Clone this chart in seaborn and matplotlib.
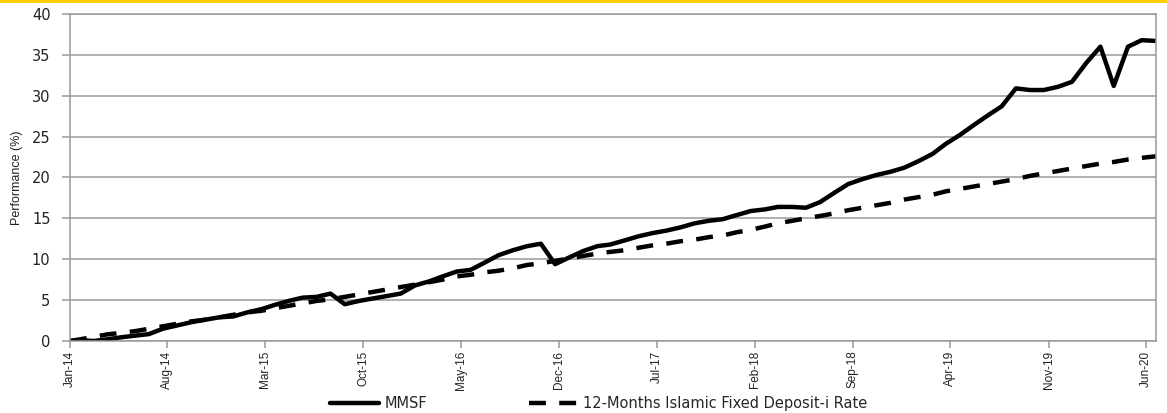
import pandas as pd
import matplotlib.pyplot as plt
import matplotlib.dates as mdates
from matplotlib.patches import Rectangle
import seaborn as sns

# -----------------------------
# Configuration
# -----------------------------
sns.set_theme(style="white")
plt.rcParams["font.family"] = ["DejaVu Sans"]
NARROW = ["Liberation Sans Narrow", "Liberation Sans", "DejaVu Sans"]

# -----------------------------
# Data (cumulative performance, %)
# -----------------------------
START_DATE = "2014-01-01"
FIRST_VALUE_DATE = "2014-01-22"
LAST_VALUE_DATE = "2020-06-22"

MMSF = [
    0.1, 0.0, 0.2, 0.45, 0.65, 0.85, 1.5, 1.9, 2.3, 2.6,
    2.9, 3.0, 3.5, 3.9, 4.4, 4.9, 5.3, 5.4, 5.8, 4.5,
    4.9, 5.2, 5.5, 5.8, 6.8, 7.3, 7.9, 8.5, 8.7, 9.6,
    10.5, 11.1, 11.6, 11.9, 9.4, 10.2, 11.0, 11.6, 11.8, 12.3,
    12.8, 13.2, 13.5, 13.9, 14.4, 14.7, 14.9, 15.4, 15.9, 16.1,
    16.4, 16.4, 16.3, 17.0, 18.1, 19.2, 19.8, 20.3, 20.7, 21.2,
    22.0, 22.9, 24.1, 25.2, 26.4, 27.6, 28.7, 30.9, 30.7, 30.7,
    31.1, 31.7, 34.0, 36.0, 31.2, 36.0, 36.8, 36.7,
]

FIXED_DEPOSIT = [
    0.2, 0.5, 0.8, 1.0, 1.2, 1.5, 1.8, 2.1, 2.4, 2.6,
    2.9, 3.2, 3.5, 3.7, 4.0, 4.3, 4.6, 4.9, 5.1, 5.4,
    5.7, 6.0, 6.3, 6.6, 6.9, 7.2, 7.5, 7.9, 8.1, 8.4,
    8.6, 8.9, 9.3, 9.5, 9.8, 10.1, 10.4, 10.7, 10.9, 11.1,
    11.4, 11.7, 11.9, 12.2, 12.4, 12.7, 12.9, 13.3, 13.6, 14.0,
    14.4, 14.7, 15.0, 15.3, 15.6, 16.0, 16.3, 16.6, 16.9, 17.3,
    17.6, 17.9, 18.3, 18.6, 18.9, 19.2, 19.5, 19.8, 20.2, 20.5,
    20.8, 21.1, 21.4, 21.7, 21.9, 22.2, 22.4, 22.6,
]

SERIES_NAMES = ["MMSF", "12-Months Islamic Fixed Deposit-i Rate"]
Y_TICKS = [0, 5, 10, 15, 20, 25, 30, 35, 40]


def run_plot():
    dates = [pd.Timestamp(START_DATE)] + list(
        pd.date_range(FIRST_VALUE_DATE, LAST_VALUE_DATE, freq=pd.DateOffset(months=1))
    )
    df = pd.DataFrame({
        "date": dates,
        SERIES_NAMES[0]: [0.0] + MMSF,
        SERIES_NAMES[1]: [0.0] + FIXED_DEPOSIT,
    })
    long = df.melt(id_vars="date", var_name="series", value_name="perf")

    fig = plt.figure(figsize=(11.67, 4.13), dpi=100)
    ax = fig.add_axes([70 / 1167, 1 - 341 / 413, 1086 / 1167, 327 / 413])

    sns.lineplot(
        data=long, x="date", y="perf", style="series", ax=ax,
        color="black", linewidth=3.2,
        dashes={SERIES_NAMES[0]: "", SERIES_NAMES[1]: (3.8, 3.0)},
        legend=True,
    )

    ax.set_xlim(pd.Timestamp(START_DATE), pd.Timestamp(LAST_VALUE_DATE))
    ax.set_ylim(0, 40)
    ax.set_yticks(Y_TICKS)
    ax.set_xticks(pd.date_range(START_DATE, "2020-06-01", freq="7MS"))
    ax.xaxis.set_major_formatter(mdates.DateFormatter("%b-%y"))

    ax.grid(axis="y", color="#9a9a9a", linewidth=1.1)
    for side in ["left", "bottom", "right", "top"]:
        ax.spines[side].set_color("#9a9a9a")
        ax.spines[side].set_linewidth(1.1)
    ax.tick_params(axis="y", length=6, width=1.1, color="#9a9a9a",
                   labelsize=10.5, labelcolor="#222222", pad=8, left=True)
    ax.tick_params(axis="x", length=5, width=1.1, color="#9a9a9a",
                   labelsize=8.5, labelcolor="#222222", pad=2, bottom=True)
    for lbl in ax.get_xticklabels():
        lbl.set_rotation(90)
        lbl.set_family(NARROW)

    ax.set_xlabel("")
    ax.set_ylabel("Performance (%)", family=NARROW, fontsize=9, color="#222222", labelpad=6)

    ax.legend(
        loc="center", bbox_to_anchor=(0.487, -0.192), ncol=2, frameon=False,
        fontsize=10.5, handlelength=3.3, columnspacing=7.0, handletextpad=0.4,
        title=None,
    )

    # thin yellow band along the top edge
    fig.add_artist(Rectangle((0, 1 - 3 / 413), 1, 3 / 413, transform=fig.transFigure,
                             color="#ffcc00", linewidth=0))

    fig.savefig("out.png", dpi=100)
    plt.close(fig)


if __name__ == "__main__":
    run_plot()
